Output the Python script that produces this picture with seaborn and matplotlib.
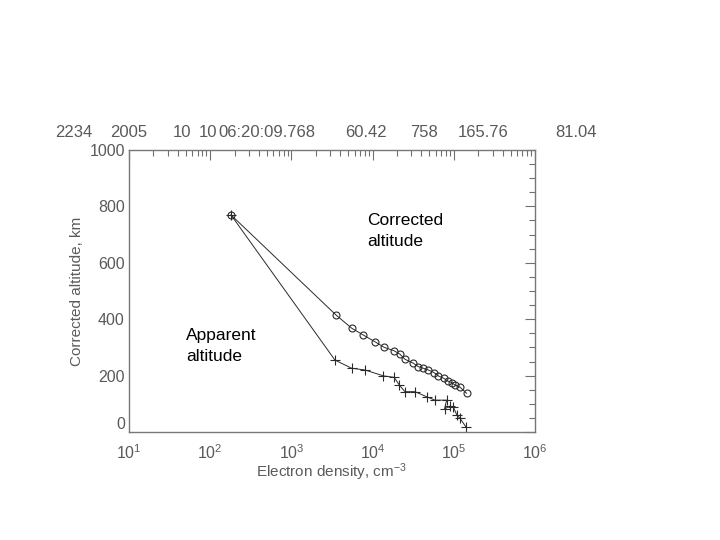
import numpy as np
import pandas as pd
import matplotlib
matplotlib.use("Agg")
import matplotlib.pyplot as plt
import seaborn as sns
from matplotlib.ticker import LogLocator, MultipleLocator, NullFormatter
from matplotlib.transforms import Bbox

# corrected altitude profile (circles)
corr_density = [180, 3540, 5530, 7670, 10700, 13900, 18400, 21700, 25000, 31700,
                36500, 42100, 48500, 57500, 64400, 75700, 84100, 94200, 103000,
                119000, 144000]
corr_alt = [770, 415, 368, 344, 320, 300, 288, 276, 258, 244,
            232, 226, 220, 210, 199, 190, 181, 175, 167, 159, 137]

# apparent altitude profile (crosses)
app_density = [180, 3440, 5530, 8050, 13600, 18400, 21300, 25000, 33300, 46300,
               58600, 81600, 77000, 90000, 99000, 109000, 119000, 141000]
app_alt = [770, 255, 226, 220, 199, 194, 167, 143, 143, 125,
           113, 113, 82, 92, 88, 60, 49, 18]

header = ["2234", "2005", "10", "10", "06:20:09.768", "60.42", "758", "165.76", "81.04"]
header_x = [55, 110, 173, 199, 218, 345, 410, 458, 555]

df_corr = pd.DataFrame({"density": corr_density, "alt": corr_alt})
df_app = pd.DataFrame({"density": app_density, "alt": app_alt})

sns.set_style("white")
plt.rcParams["font.family"] = ["Liberation Sans", "DejaVu Sans"]
plt.rcParams["mathtext.fontset"] = "custom"
plt.rcParams["mathtext.rm"] = "Liberation Sans"
plt.rcParams["mathtext.it"] = "Liberation Sans"

fig = plt.figure(figsize=(7.2, 5.4), dpi=100)
ax = fig.add_axes([129 / 720, 108 / 540, 406 / 720, 282 / 540])

ink = "#2a2a2a"
sns.lineplot(data=df_corr, x="density", y="alt", sort=False, ax=ax,
             color=ink, linewidth=0.7, marker="o", markersize=5,
             markerfacecolor="none", markeredgecolor=ink, markeredgewidth=0.8)
sns.lineplot(data=df_app, x="density", y="alt", sort=False, ax=ax,
             color=ink, linewidth=0.7, marker="+", markersize=7.5,
             markeredgecolor=ink, markeredgewidth=0.8)

ax.set_xscale("log")
ax.set_xlim(10, 1e6)
ax.set_ylim(0, 1000)

ax.yaxis.set_major_locator(MultipleLocator(200))
ax.yaxis.set_minor_locator(MultipleLocator(50))
ax.xaxis.set_major_locator(LogLocator(base=10, numticks=10))
ax.xaxis.set_minor_locator(LogLocator(base=10, subs=np.arange(2, 10), numticks=10))
ax.xaxis.set_minor_formatter(NullFormatter())

gray = "#5a5a5a"
ax.tick_params(which="both", direction="in", top=True, right=True,
               colors="#707070", labelcolor=gray, labelsize=11.5, width=0.8)
ax.tick_params(which="major", length=7)
ax.tick_params(which="minor", length=4)
ax.tick_params(axis="x", pad=8)
ax.tick_params(axis="y", pad=3)
for s in ax.spines.values():
    s.set_color("#777777")
    s.set_linewidth(1)

# lift the "0" label so it clears the 10^1 label below it
for lab in ax.get_yticklabels():
    if lab.get_text() in ("0", "$\\mathdefault{0}$"):
        lab.set_va("bottom")

ax.set_xlabel("Electron density, cm$^{-3}$", color=gray, fontsize=11, labelpad=0)
ax.set_ylabel("Corrected altitude, km", color=gray, fontsize=11, labelpad=4)

# header line, cut off at the right like the original
clip = Bbox.from_extents(0, 0, 598, 540)
for t, x in zip(header, header_x):
    txt = fig.text(x / 720, 1 - 133 / 540, t, color=gray, fontsize=12,
                   va="center", ha="left")
    txt.set_clip_box(clip)
    txt.set_clip_on(True)

fig.text(367 / 720, 1 - 231 / 540, "Corrected\naltitude", fontsize=12.5,
         color="black", va="center", ha="left", linespacing=1.55)
fig.text(186 / 720, 1 - 346 / 540, "Apparent\naltitude", fontsize=12.5,
         color="black", va="center", ha="left", linespacing=1.55)

fig.savefig("out.png", dpi=100)
